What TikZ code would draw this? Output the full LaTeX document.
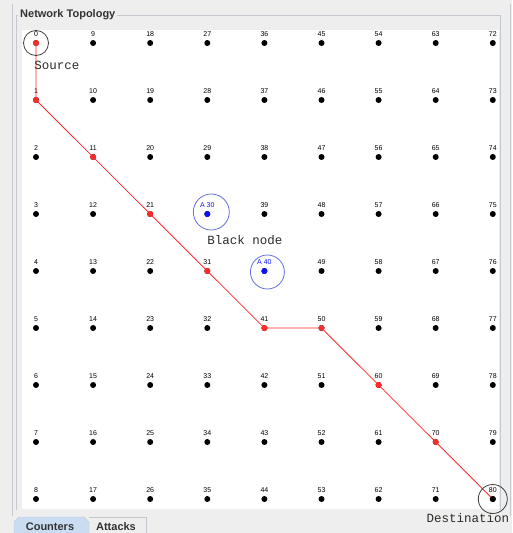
\documentclass[tikz,border=0pt]{standalone}
\usepackage{fontspec}
\setsansfont{Liberation Sans}
\setmonofont{Liberation Mono}
\begin{document}
\begin{tikzpicture}[x=1pt, y=-1pt,
    vertex/.style={circle, fill=black, inner sep=0pt, minimum size=6pt},
    tag/.style={font=\fontsize{7}{8}\selectfont\sffamily, inner sep=0pt},
    note/.style={font=\fontsize{12.5}{14}\selectfont\ttfamily, text=noteColour, inner sep=0pt},
    tab/.style={font=\fontsize{11}{12}\selectfont\sffamily\bfseries, text=titleColour, inner sep=0pt}]
    \definecolor{panelColour}{HTML}{EEEEEE}
    \definecolor{frameColour}{HTML}{C4C9D0}
    \definecolor{titleColour}{HTML}{333333}
    \definecolor{noteColour}{HTML}{2E2A26}
    \definecolor{pathColour}{HTML}{FF2A2A}
    \definecolor{attackColour}{HTML}{0A14F0}
    \definecolor{ringColour}{HTML}{6670DD}
    \definecolor{tabColour}{HTML}{C9DCF2}

    \def\colStart{36}
    \def\colGap{57.1}
    \def\rowStart{43}
    \def\rowGap{57}

    % Panel and frame
    \useasboundingbox (0,0) rectangle (512,533);
    \fill[panelColour] (0,0) rectangle (512,533);
    \draw[frameColour] (12,4) -- (12,516);
    \draw[frameColour] (510,4) -- (510,516);
    \draw[frameColour] (16,510) -- (16,15) -- (500,15) -- (500,510);
    \fill[white] (22,30) rectangle (499,509);
    \node[tab, fill=panelColour, inner xsep=2pt, anchor=west] (title) at (18,15) {Network Topology};

    % Tabs
    \draw[frameColour, fill=tabColour] (14,534) -- (14,522) -- (19,517) -- (84,517) -- (89,522) -- (89,534);
    \draw[frameColour] (89,517) -- (146,517) -- (146,534);
    \node[tab] (counters) at (50,527) {Counters};
    \node[tab] (attacks) at (116,527) {Attacks};

    % Draw vertices
    \foreach \i in {0,...,8} {
        \foreach \j in {0,...,8} {
            \pgfmathtruncatemacro{\n}{9*\i+\j}
            \node[vertex] (v\n) at ({\colStart+\colGap*\i},{\rowStart+\rowGap*\j}) {};
        }
    }

    % Label vertices
    \foreach \n in {0,...,80} {
        \ifnum\n=30 \else \ifnum\n=40 \else
            \node[tag, above=3.5pt] at (v\n.north) {\n};
        \fi \fi
    }

    % Route from source to destination
    \draw[pathColour, line width=0.8pt] (v0.center) -- (v1.center) -- (v11.center) -- (v21.center)
        -- (v31.center) -- (v41.center) -- (v50.center) -- (v60.center) -- (v70.center) -- (v80.center);
    \foreach \k in {0,1,11,21,31,41,50,60,70}
        \fill[pathColour] (v\k) circle (3pt);
    \fill[black] (v80) circle (3pt);

    % Attack nodes
    \foreach \k in {30,40} {
        \fill[attackColour] (v\k) circle (3pt);
        \node[tag, text=attackColour, above=3.5pt] at (v\k.north) {A \k};
    }
    \draw[ringColour, line width=0.8pt] ([xshift=4pt, yshift=2pt]v30.center) circle (18pt);
    \draw[ringColour, line width=0.8pt] ([xshift=3pt, yshift=-1pt]v40.center) circle (17pt);

    % Source and destination rings
    \draw[black!75, line width=0.8pt] (v0.center) circle (12.5pt);
    \draw[black!75, line width=0.8pt] (v80.center) circle (14.5pt);

    % Notes
    \node[note] (src) at (57,65) {Source};
    \node[note] (blk) at (245,240) {Black node};
    \node[note] (dst) at (468,518) {Destination};

\end{tikzpicture}
\end{document}
